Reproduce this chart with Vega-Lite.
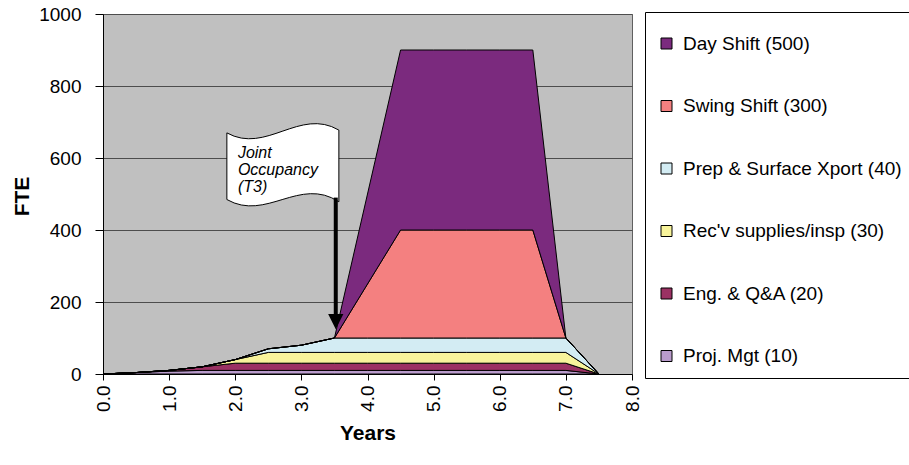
{
  "$schema": "https://vega.github.io/schema/vega-lite/v6.json",
  "width": 529,
  "height": 360,
  "autosize": {"type": "none"},
  "padding": {"left": 103, "top": 14, "right": 277, "bottom": 91},
  "background": "white",
  "config": {
    "font": "Liberation Sans",
    "view": {"fill": "#C0C0C0", "stroke": "#606060", "strokeWidth": 1}
  },
  "datasets": {
    "fte": [
      {"s":"Proj. Mgt (10)","k":1,"x":0,"v":0},{"s":"Proj. Mgt (10)","k":1,"x":0.5,"v":4},{"s":"Proj. Mgt (10)","k":1,"x":1,"v":8},{"s":"Proj. Mgt (10)","k":1,"x":1.5,"v":10},{"s":"Proj. Mgt (10)","k":1,"x":2,"v":10},{"s":"Proj. Mgt (10)","k":1,"x":2.5,"v":10},{"s":"Proj. Mgt (10)","k":1,"x":3,"v":10},{"s":"Proj. Mgt (10)","k":1,"x":3.5,"v":10},{"s":"Proj. Mgt (10)","k":1,"x":4,"v":10},{"s":"Proj. Mgt (10)","k":1,"x":4.5,"v":10},{"s":"Proj. Mgt (10)","k":1,"x":5,"v":10},{"s":"Proj. Mgt (10)","k":1,"x":5.5,"v":10},{"s":"Proj. Mgt (10)","k":1,"x":6,"v":10},{"s":"Proj. Mgt (10)","k":1,"x":6.5,"v":10},{"s":"Proj. Mgt (10)","k":1,"x":7,"v":10},{"s":"Proj. Mgt (10)","k":1,"x":7.5,"v":0},
      {"s":"Eng. & Q&A (20)","k":2,"x":0,"v":0},{"s":"Eng. & Q&A (20)","k":2,"x":0.5,"v":0},{"s":"Eng. & Q&A (20)","k":2,"x":1,"v":2},{"s":"Eng. & Q&A (20)","k":2,"x":1.5,"v":10},{"s":"Eng. & Q&A (20)","k":2,"x":2,"v":20},{"s":"Eng. & Q&A (20)","k":2,"x":2.5,"v":20},{"s":"Eng. & Q&A (20)","k":2,"x":3,"v":20},{"s":"Eng. & Q&A (20)","k":2,"x":3.5,"v":20},{"s":"Eng. & Q&A (20)","k":2,"x":4,"v":20},{"s":"Eng. & Q&A (20)","k":2,"x":4.5,"v":20},{"s":"Eng. & Q&A (20)","k":2,"x":5,"v":20},{"s":"Eng. & Q&A (20)","k":2,"x":5.5,"v":20},{"s":"Eng. & Q&A (20)","k":2,"x":6,"v":20},{"s":"Eng. & Q&A (20)","k":2,"x":6.5,"v":20},{"s":"Eng. & Q&A (20)","k":2,"x":7,"v":20},{"s":"Eng. & Q&A (20)","k":2,"x":7.5,"v":0},
      {"s":"Rec'v supplies/insp (30)","k":3,"x":0,"v":0},{"s":"Rec'v supplies/insp (30)","k":3,"x":0.5,"v":0},{"s":"Rec'v supplies/insp (30)","k":3,"x":1,"v":0},{"s":"Rec'v supplies/insp (30)","k":3,"x":1.5,"v":0},{"s":"Rec'v supplies/insp (30)","k":3,"x":2,"v":10},{"s":"Rec'v supplies/insp (30)","k":3,"x":2.5,"v":30},{"s":"Rec'v supplies/insp (30)","k":3,"x":3,"v":30},{"s":"Rec'v supplies/insp (30)","k":3,"x":3.5,"v":30},{"s":"Rec'v supplies/insp (30)","k":3,"x":4,"v":30},{"s":"Rec'v supplies/insp (30)","k":3,"x":4.5,"v":30},{"s":"Rec'v supplies/insp (30)","k":3,"x":5,"v":30},{"s":"Rec'v supplies/insp (30)","k":3,"x":5.5,"v":30},{"s":"Rec'v supplies/insp (30)","k":3,"x":6,"v":30},{"s":"Rec'v supplies/insp (30)","k":3,"x":6.5,"v":30},{"s":"Rec'v supplies/insp (30)","k":3,"x":7,"v":30},{"s":"Rec'v supplies/insp (30)","k":3,"x":7.5,"v":0},
      {"s":"Prep & Surface Xport (40)","k":4,"x":0,"v":0},{"s":"Prep & Surface Xport (40)","k":4,"x":0.5,"v":0},{"s":"Prep & Surface Xport (40)","k":4,"x":1,"v":0},{"s":"Prep & Surface Xport (40)","k":4,"x":1.5,"v":0},{"s":"Prep & Surface Xport (40)","k":4,"x":2,"v":0},{"s":"Prep & Surface Xport (40)","k":4,"x":2.5,"v":10},{"s":"Prep & Surface Xport (40)","k":4,"x":3,"v":20},{"s":"Prep & Surface Xport (40)","k":4,"x":3.5,"v":40},{"s":"Prep & Surface Xport (40)","k":4,"x":4,"v":40},{"s":"Prep & Surface Xport (40)","k":4,"x":4.5,"v":40},{"s":"Prep & Surface Xport (40)","k":4,"x":5,"v":40},{"s":"Prep & Surface Xport (40)","k":4,"x":5.5,"v":40},{"s":"Prep & Surface Xport (40)","k":4,"x":6,"v":40},{"s":"Prep & Surface Xport (40)","k":4,"x":6.5,"v":40},{"s":"Prep & Surface Xport (40)","k":4,"x":7,"v":40},{"s":"Prep & Surface Xport (40)","k":4,"x":7.5,"v":0},
      {"s":"Swing Shift (300)","k":5,"x":0,"v":0},{"s":"Swing Shift (300)","k":5,"x":0.5,"v":0},{"s":"Swing Shift (300)","k":5,"x":1,"v":0},{"s":"Swing Shift (300)","k":5,"x":1.5,"v":0},{"s":"Swing Shift (300)","k":5,"x":2,"v":0},{"s":"Swing Shift (300)","k":5,"x":2.5,"v":0},{"s":"Swing Shift (300)","k":5,"x":3,"v":0},{"s":"Swing Shift (300)","k":5,"x":3.5,"v":0},{"s":"Swing Shift (300)","k":5,"x":4,"v":150},{"s":"Swing Shift (300)","k":5,"x":4.5,"v":300},{"s":"Swing Shift (300)","k":5,"x":5,"v":300},{"s":"Swing Shift (300)","k":5,"x":5.5,"v":300},{"s":"Swing Shift (300)","k":5,"x":6,"v":300},{"s":"Swing Shift (300)","k":5,"x":6.5,"v":300},{"s":"Swing Shift (300)","k":5,"x":7,"v":0},{"s":"Swing Shift (300)","k":5,"x":7.5,"v":0},
      {"s":"Day Shift (500)","k":6,"x":0,"v":0},{"s":"Day Shift (500)","k":6,"x":0.5,"v":0},{"s":"Day Shift (500)","k":6,"x":1,"v":0},{"s":"Day Shift (500)","k":6,"x":1.5,"v":0},{"s":"Day Shift (500)","k":6,"x":2,"v":0},{"s":"Day Shift (500)","k":6,"x":2.5,"v":0},{"s":"Day Shift (500)","k":6,"x":3,"v":0},{"s":"Day Shift (500)","k":6,"x":3.5,"v":0},{"s":"Day Shift (500)","k":6,"x":4,"v":250},{"s":"Day Shift (500)","k":6,"x":4.5,"v":500},{"s":"Day Shift (500)","k":6,"x":5,"v":500},{"s":"Day Shift (500)","k":6,"x":5.5,"v":500},{"s":"Day Shift (500)","k":6,"x":6,"v":500},{"s":"Day Shift (500)","k":6,"x":6.5,"v":500},{"s":"Day Shift (500)","k":6,"x":7,"v":0},{"s":"Day Shift (500)","k":6,"x":7.5,"v":0}
    ],
    "flag": [{"x": 2.72, "y": 578}],
    "note": [{"x": 2.04, "y": 637, "t": ["Joint", "Occupancy", "(T3)"]}],
    "pole": [{"x": 3.52, "y": 490, "y2": 152}],
    "head": [{"x": 3.52, "y": 147}]
  },
  "layer": [
    {
      "data": {"name": "fte"},
      "mark": {"type": "area", "stroke": "black", "strokeWidth": 1, "strokeJoin": "miter", "opacity": 1},
      "encoding": {
        "x": {
          "field": "x", "type": "quantitative",
          "scale": {"domain": [0, 8], "nice": false},
          "axis": {
            "title": "Years",
            "values": [0,0.5,1,1.5,2,2.5,3,3.5,4,4.5,5,5.5,6,6.5,7,7.5,8],
            "labelExpr": "datum.value % 1 == 0 ? format(datum.value, '.1f') : ''",
            "labelAngle": -90,
            "labelAlign": "right",
            "labelBaseline": "middle",
            "labelFontSize": 19,
            "labelColor": "black",
            "labelPadding": 5,
            "labelFlush": false,
            "labelOverlap": false,
            "tickColor": "black",
            "tickSize": 6,
            "domainColor": "black",
            "grid": false,
            "titleFontSize": 21,
            "titleFontWeight": "bold",
            "titleColor": "black",
            "titleY": 59,
            "titleBaseline": "middle"
          }
        },
        "y": {
          "field": "v", "type": "quantitative", "stack": "zero",
          "scale": {"domain": [0, 1000], "nice": false},
          "axis": {
            "title": "FTE",
            "values": [0, 200, 400, 600, 800, 1000],
            "format": "d",
            "labelFontSize": 19,
            "labelColor": "black",
            "labelPadding": 14,
            "tickColor": "black",
            "tickSize": 8,
            "domainColor": "black",
            "grid": true,
            "gridColor": "#4d4d4d",
            "gridOpacity": 1,
            "titleFontSize": 21,
            "titleFontWeight": "bold",
            "titleColor": "black",
            "titleX": -81,
            "titleY": 182,
            "titleBaseline": "middle",
            "titleAlign": "center"
          }
        },
        "color": {
          "field": "s", "type": "nominal",
          "scale": {
            "domain": ["Day Shift (500)", "Swing Shift (300)", "Prep & Surface Xport (40)", "Rec'v supplies/insp (30)", "Eng. & Q&A (20)", "Proj. Mgt (10)"],
            "range": ["#7B2A7E", "#F48080", "#D3ECF3", "#F8F49B", "#9B3163", "#B99BCB"]
          },
          "legend": {
            "orient": "none",
            "legendX": 542,
            "legendY": -2,
            "title": " ",
            "titleFontSize": 4,
            "titlePadding": 6,
            "padding": 12,
            "strokeColor": "black",
            "fillColor": "white",
            "symbolType": "square",
            "symbolSize": 121,
            "symbolStrokeColor": "black",
            "symbolStrokeWidth": 1,
            "symbolOpacity": 1,
            "labelFontSize": 19,
            "labelColor": "black",
            "labelOffset": 7,
            "rowPadding": 42.5,
            "labelLimit": 400
          }
        },
        "order": {"field": "k", "type": "quantitative"}
      }
    },
    {
      "data": {"name": "flag"},
      "mark": {
        "type": "point", "filled": true, "fill": "white", "stroke": "black", "strokeWidth": 1, "opacity": 1,
        "size": 12544,
        "shape": "M -1 -0.59 C -0.3 -0.2 0.3 -1.05 1 -0.64 L 1 0.64 C 0.3 0.18 -0.3 1.0 -1 0.6 Z"
      },
      "encoding": {
        "x": {"field": "x", "type": "quantitative"},
        "y": {"field": "y", "type": "quantitative"}
      }
    },
    {
      "data": {"name": "note"},
      "mark": {"type": "text", "align": "left", "baseline": "top", "fontSize": 16, "fontStyle": "italic", "lineHeight": 17, "color": "black"},
      "encoding": {
        "x": {"field": "x", "type": "quantitative"},
        "y": {"field": "y", "type": "quantitative"},
        "text": {"field": "t"}
      }
    },
    {
      "data": {"name": "pole"},
      "mark": {"type": "rule", "color": "black", "strokeWidth": 4},
      "encoding": {
        "x": {"field": "x", "type": "quantitative"},
        "y": {"field": "y", "type": "quantitative"},
        "y2": {"field": "y2"}
      }
    },
    {
      "data": {"name": "head"},
      "mark": {"type": "point", "filled": true, "fill": "black", "stroke": "black", "opacity": 1, "size": 144, "shape": "M -1 -1 L 1 -1 L 0 1 Z"},
      "encoding": {
        "x": {"field": "x", "type": "quantitative"},
        "y": {"field": "y", "type": "quantitative"}
      }
    }
  ]
}
